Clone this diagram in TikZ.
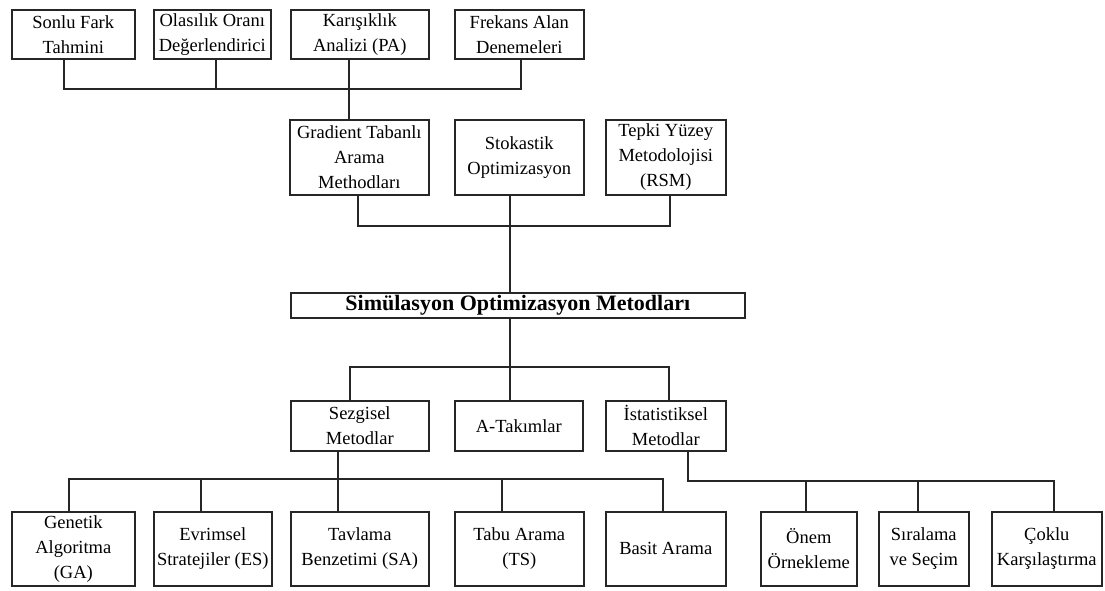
\documentclass[tikz,border=0pt]{standalone}
\usepackage{fontspec}
\setmainfont{Liberation Serif}
\begin{document}
\begin{tikzpicture}[x=1pt,y=-1pt,
  box/.style={draw=black!85, line width=1.6pt, inner sep=0pt, align=center,
    anchor=north west, font=\fontsize{18.5}{25}\selectfont},
  wire/.style={draw=black!85, line width=1.6pt}]
\useasboundingbox (0,0) rectangle (1105,590);

% first level: estimation techniques
\node[box, minimum width=123pt, minimum height=49pt] (sonlu) at (11,9) {Sonlu Fark\\Tahmini};
\node[box, minimum width=117pt, minimum height=49pt] (olas) at (153,9) {Olasılık Oranı\\Değerlendirici};
\node[box, minimum width=138pt, minimum height=49pt] (karis) at (290,9) {Karışıklık\\Analizi (PA)};
\node[box, minimum width=129pt, minimum height=49pt] (frek) at (454,9) {Frekans Alan\\Denemeleri};

% second level
\node[box, minimum width=139pt, minimum height=75pt] (grad) at (289,119) {Gradient Tabanlı\\Arama\\Methodları};
\node[box, minimum width=129pt, minimum height=75pt] (stok) at (454,119) {Stokastik\\Optimizasyon};
\node[box, minimum width=120pt, minimum height=75pt] (tepki) at (605,119) {Tepki Yüzey\\Metodolojisi\\(RSM)};

% root
\node[box, minimum width=454pt, minimum height=25pt, font=\fontsize{22}{26}\selectfont\bfseries] (sim) at (290,292) {Simülasyon Optimizasyon Metodları};

% third level
\node[box, minimum width=138pt, minimum height=50pt] (sezg) at (290,400) {Sezgisel\\Metodlar};
\node[box, minimum width=128pt, minimum height=50pt] (atak) at (454,400) {A-Takımlar};
\node[box, minimum width=120pt, minimum height=50pt] (istat) at (605,400) {İstatistiksel\\Metodlar};

% leaves
\node[box, minimum width=123pt, minimum height=74pt] (gen) at (11,511) {Genetik\\Algoritma\\(GA)};
\node[box, minimum width=118pt, minimum height=74pt] (evr) at (153,511) {Evrimsel\\Stratejiler (ES)};
\node[box, minimum width=138pt, minimum height=74pt] (tav) at (290,511) {Tavlama\\Benzetimi (SA)};
\node[box, minimum width=129pt, minimum height=74pt] (tabu) at (454,511) {Tabu Arama\\(TS)};
\node[box, minimum width=120pt, minimum height=74pt] (basit) at (605,511) {Basit Arama};
\node[box, minimum width=96pt, minimum height=74pt] (onem) at (760,511) {Önem\\Örnekleme};
\node[box, minimum width=90pt, minimum height=74pt] (sira) at (878,511) {Sıralama\\ve Seçim};
\node[box, minimum width=110pt, minimum height=74pt] (coklu) at (991,511) {Çoklu\\Karşılaştırma};

% bus levels
\coordinate (busTop) at (0,89);
\coordinate (busMid) at (0,226);
\coordinate (busLow) at (0,367);
\coordinate (busH) at (0,479);
\coordinate (busS) at (0,481);

% tie points on the boxes
\coordinate (pS) at ([xshift=-9.5pt]sonlu.south);
\coordinate (pO) at ([xshift=3.5pt]olas.south);
\coordinate (pK) at ([xshift=-11pt]karis.south);
\coordinate (pF) at ([xshift=1.5pt]frek.south);
\coordinate (pG) at ([xshift=-1.5pt]grad.south);
\coordinate (pSt) at ([xshift=-9.5pt]stok.south);
\coordinate (pT) at ([xshift=4pt]tepki.south);
\coordinate (pSz) at ([xshift=-10pt]sezg.north);
\coordinate (pI) at ([xshift=3pt]istat.north);
\coordinate (qSz) at ([xshift=-22pt]sezg.south);
\coordinate (qG) at ([xshift=-4.5pt]gen.north);
\coordinate (qE) at ([xshift=-12pt]evr.north);
\coordinate (qT) at ([xshift=-17.5pt]tabu.north);
\coordinate (qB) at ([xshift=-3pt]basit.north);
\coordinate (qI) at ([xshift=22pt]istat.south);
\coordinate (qO) at ([xshift=-3pt]onem.north);
\coordinate (qR) at ([xshift=-6pt]sira.north);
\coordinate (qC) at ([xshift=7pt]coklu.north);

% top tree
\draw[wire] (pS) -- (pS |- busTop) -- (pF |- busTop) -- (pF);
\draw[wire] (pO) -- (pO |- busTop);
\draw[wire] (pK) -- (pK |- grad.north);

% middle tree
\draw[wire] (pG) -- (pG |- busMid) -- (pT |- busMid) -- (pT);
\draw[wire] (pSt) -- (pSt |- sim.north);
\draw[wire] (pSt |- sim.south) -- (pSt |- atak.north);
\draw[wire] (pSz) -- (pSz |- busLow) -- (pI |- busLow) -- (pI);

% heuristic methods
\draw[wire] (qSz) -- (qSz |- tav.north);
\draw[wire] (qG) -- (qG |- busH) -- (qB |- busH) -- (qB);
\draw[wire] (qE) -- (qE |- busH);
\draw[wire] (qT) -- (qT |- busH);

% statistical methods
\draw[wire] (qI) -- (qI |- busS) -- (qC |- busS) -- (qC);
\draw[wire] (qO) -- (qO |- busS);
\draw[wire] (qR) -- (qR |- busS);
\end{tikzpicture}
\end{document}
